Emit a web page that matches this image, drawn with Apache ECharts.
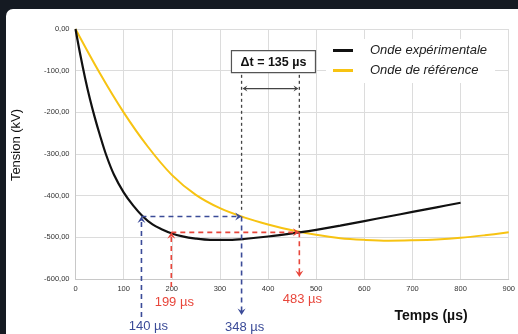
<!DOCTYPE html>
<html>
<head>
<meta charset="utf-8">
<script src="https://cdn.jsdelivr.net/npm/echarts@6/dist/echarts.min.js"></script>
<style>
html,body{margin:0;padding:0;background:#151a22;width:518px;height:334px;overflow:hidden;}
#panel{position:absolute;left:6px;top:9px;width:530px;height:340px;background:#fff;border-radius:7px;}
#main{position:absolute;left:0;top:0;width:518px;height:334px;}
</style>
</head>
<body>
<div id="panel"></div>
<div id="main"></div>
<script>
// onde expérimentale (noire)
var tExp = [0,10,20,30,40,50,63,80,100,120,140,160,180,199,220,250,280,320,350,400,465,500,550,600,650,700,750,800];
var vExp = [0,-62,-118,-168,-212,-252,-300,-350,-392,-424,-450,-469,-481,-490,-497,-503,-506,-506,-504,-498,-488,-482,-472,-461,-450,-439,-428,-417];
// onde de référence (jaune)
var tRef = [0,50,100,150,200,250,300,350,400,450,500,550,600,650,700,750,800,850,900];
var vRef = [0,-105,-200,-282,-350,-398,-430,-452,-469,-483,-494,-502,-506,-508,-507,-505,-501,-495,-488];

var xTicks = [0,100,200,300,400,500,600,700,800,900];
var yTicks = [0,-100,-200,-300,-400,-500,-600];

// repères (position dessinée, étiquette)
var blueLevel = -450, redLevel = -488;
var blueT = [137,345], blueLabels = ['140 µs','348 µs'];
var redT = [199,465], redLabels = ['199 µs','483 µs'];
var deltaText = 'Δt = 135 µs';

function pairs(t,v){
    var out = [];
    for(var i=0;i<t.length;i++){ out.push([t[i],v[i]]); }
    return out;
}

var chart = echarts.init(document.getElementById('main'));
var option = {
    animation:false,
    backgroundColor:'transparent',
    grid:{left:75.5,right:8,top:29,bottom:55},
    legend:{
        orient:'vertical',
        left:326, top:39,
        backgroundColor:'#fff',
        padding:[5,8,6,7],
        itemGap:7,
        itemWidth:20, itemHeight:3,
        icon:'rect',
        textStyle:{fontFamily:'Liberation Sans',fontSize:13,fontStyle:'italic',color:'#222',padding:[0,0,0,12]},
        data:['Onde expérimentale','Onde de référence']
    },
    xAxis:{
        type:'value', min:0, max:900, interval:100,
        axisLine:{show:true,onZero:false,lineStyle:{color:'#c8c8c8'}},
        axisTick:{show:false},
        splitLine:{show:true,lineStyle:{color:'#dcdcdc',width:1}},
        axisLabel:{fontFamily:'Liberation Sans',fontSize:7.5,color:'#333',margin:6,
            formatter:function(v){return xTicks.indexOf(v)>=0 ? String(v) : '';}}
    },
    yAxis:{
        type:'value', min:-600, max:0, interval:100,
        axisLine:{show:true,lineStyle:{color:'#c8c8c8'}},
        axisTick:{show:false},
        splitLine:{show:true,lineStyle:{color:'#dcdcdc',width:1}},
        axisLabel:{fontFamily:'Liberation Sans',fontSize:7.5,color:'#333',margin:6,
            formatter:function(v){
                if(yTicks.indexOf(v)<0) return '';
                var s = Math.abs(v).toFixed(2).replace('.',',');
                return v<0 ? '-'+s : s;
            }}
    },
    series:[
        {name:'Onde de référence',type:'line',data:pairs(tRef,vRef),smooth:0.35,showSymbol:false,
         lineStyle:{color:'#f7c312',width:2},itemStyle:{color:'#f7c312'},z:3},
        {name:'Onde expérimentale',type:'line',data:pairs(tExp,vExp),smooth:0.35,showSymbol:false,
         lineStyle:{color:'#111',width:2.2},itemStyle:{color:'#111'},z:4}
    ]
};
chart.setOption(option);

function px(x,y){ return chart.convertToPixel({gridIndex:0},[x,y]); }

var els = [];
function dash(x1,y1,x2,y2,color,w,d){
    els.push({type:'line',z:10,shape:{x1:x1,y1:y1,x2:x2,y2:y2},
        style:{stroke:color,lineWidth:w||1.6,lineDash:d||[5,4]}});
}
function head(x,y,dir,color,size){
    var s = size||4;
    var pts;
    if(dir=='up') pts=[[x,y],[x-s,y+s*1.6],[x,y+s*1.0],[x+s,y+s*1.6]];
    else if(dir=='down') pts=[[x,y],[x-s,y-s*1.6],[x,y-s*1.0],[x+s,y-s*1.6]];
    else if(dir=='right') pts=[[x,y],[x-s*1.6,y-s],[x-s*1.0,y],[x-s*1.6,y+s]];
    else pts=[[x,y],[x+s*1.6,y-s],[x+s*1.0,y],[x+s*1.6,y+s]];
    els.push({type:'polygon',z:11,shape:{points:pts},style:{fill:color}});
}
function label(x,y,text,color,size,weight){
    els.push({type:'text',z:12,x:x,y:y,style:{text:text,fill:color,font:(weight||'normal')+' '+(size||13)+'px "Liberation Sans"',align:'center',verticalAlign:'middle'}});
}

var blue = '#3b4b98', red = '#e8463b', gray = '#444';
var bottom = px(0,-600)[1];

// bleu
var b0 = px(blueT[0],blueLevel), b1 = px(blueT[1],blueLevel);
dash(b0[0],b0[1],b1[0]-3,b1[1],blue);
head(b1[0],b1[1],'right',blue);
dash(b0[0],bottom+38,b0[0],b0[1]+3,blue);
head(b0[0],b0[1],'up',blue);
dash(b1[0],b1[1],b1[0],bottom+34,blue);
head(b1[0],bottom+36,'down',blue);
label(b0[0]+7,bottom+47,blueLabels[0],blue,13);
label(b1[0]+3,bottom+48,blueLabels[1],blue,13);

// rouge
var r0 = px(redT[0],redLevel), r1 = px(redT[1],redLevel);
dash(r0[0],r0[1],r1[0]-3,r1[1],red);
head(r1[0],r1[1],'right',red);
dash(r0[0],bottom+8,r0[0],r0[1]+3,red);
head(r0[0],r0[1],'up',red);
dash(r1[0],r1[1],r1[0],bottom-4,red);
head(r1[0],bottom-2,'down',red);
label(r0[0]+3,bottom+23,redLabels[0],red,13);
label(r1[0]+3,bottom+20,redLabels[1],red,13);

// delta t
var topY = px(0,-110)[1];
dash(b1[0],topY,b1[0],b1[1]-4,gray,1.3,[3,3]);
dash(r1[0],topY,r1[0],r1[1]-4,gray,1.3,[3,3]);
var ay = px(0,-143)[1];
els.push({type:'line',z:10,shape:{x1:b1[0]+2,y1:ay,x2:r1[0]-2,y2:ay},style:{stroke:gray,lineWidth:1.3}});
head(b1[0]+1,ay,'left',gray,3);
head(r1[0]-1,ay,'right',gray,3);
var cx = (b1[0]+r1[0])/2 + 3;
var boxTop = px(0,-52)[1];
els.push({type:'rect',z:10,shape:{x:cx-42,y:boxTop,width:84,height:22},style:{fill:'#fff',stroke:'#555',lineWidth:1.2}});
label(cx,boxTop+11.5,deltaText,'#111',12.5,'bold');

// titres d'axes
label(431,316,'Temps (µs)','#111',14,'bold');
els.push({type:'text',z:12,x:16,y:145,rotation:Math.PI/2,
    style:{text:'Tension (kV)',fill:'#111',font:'13px "Liberation Sans"',align:'center',verticalAlign:'middle'}});

chart.setOption({graphic:els});
</script>
</body>
</html>
